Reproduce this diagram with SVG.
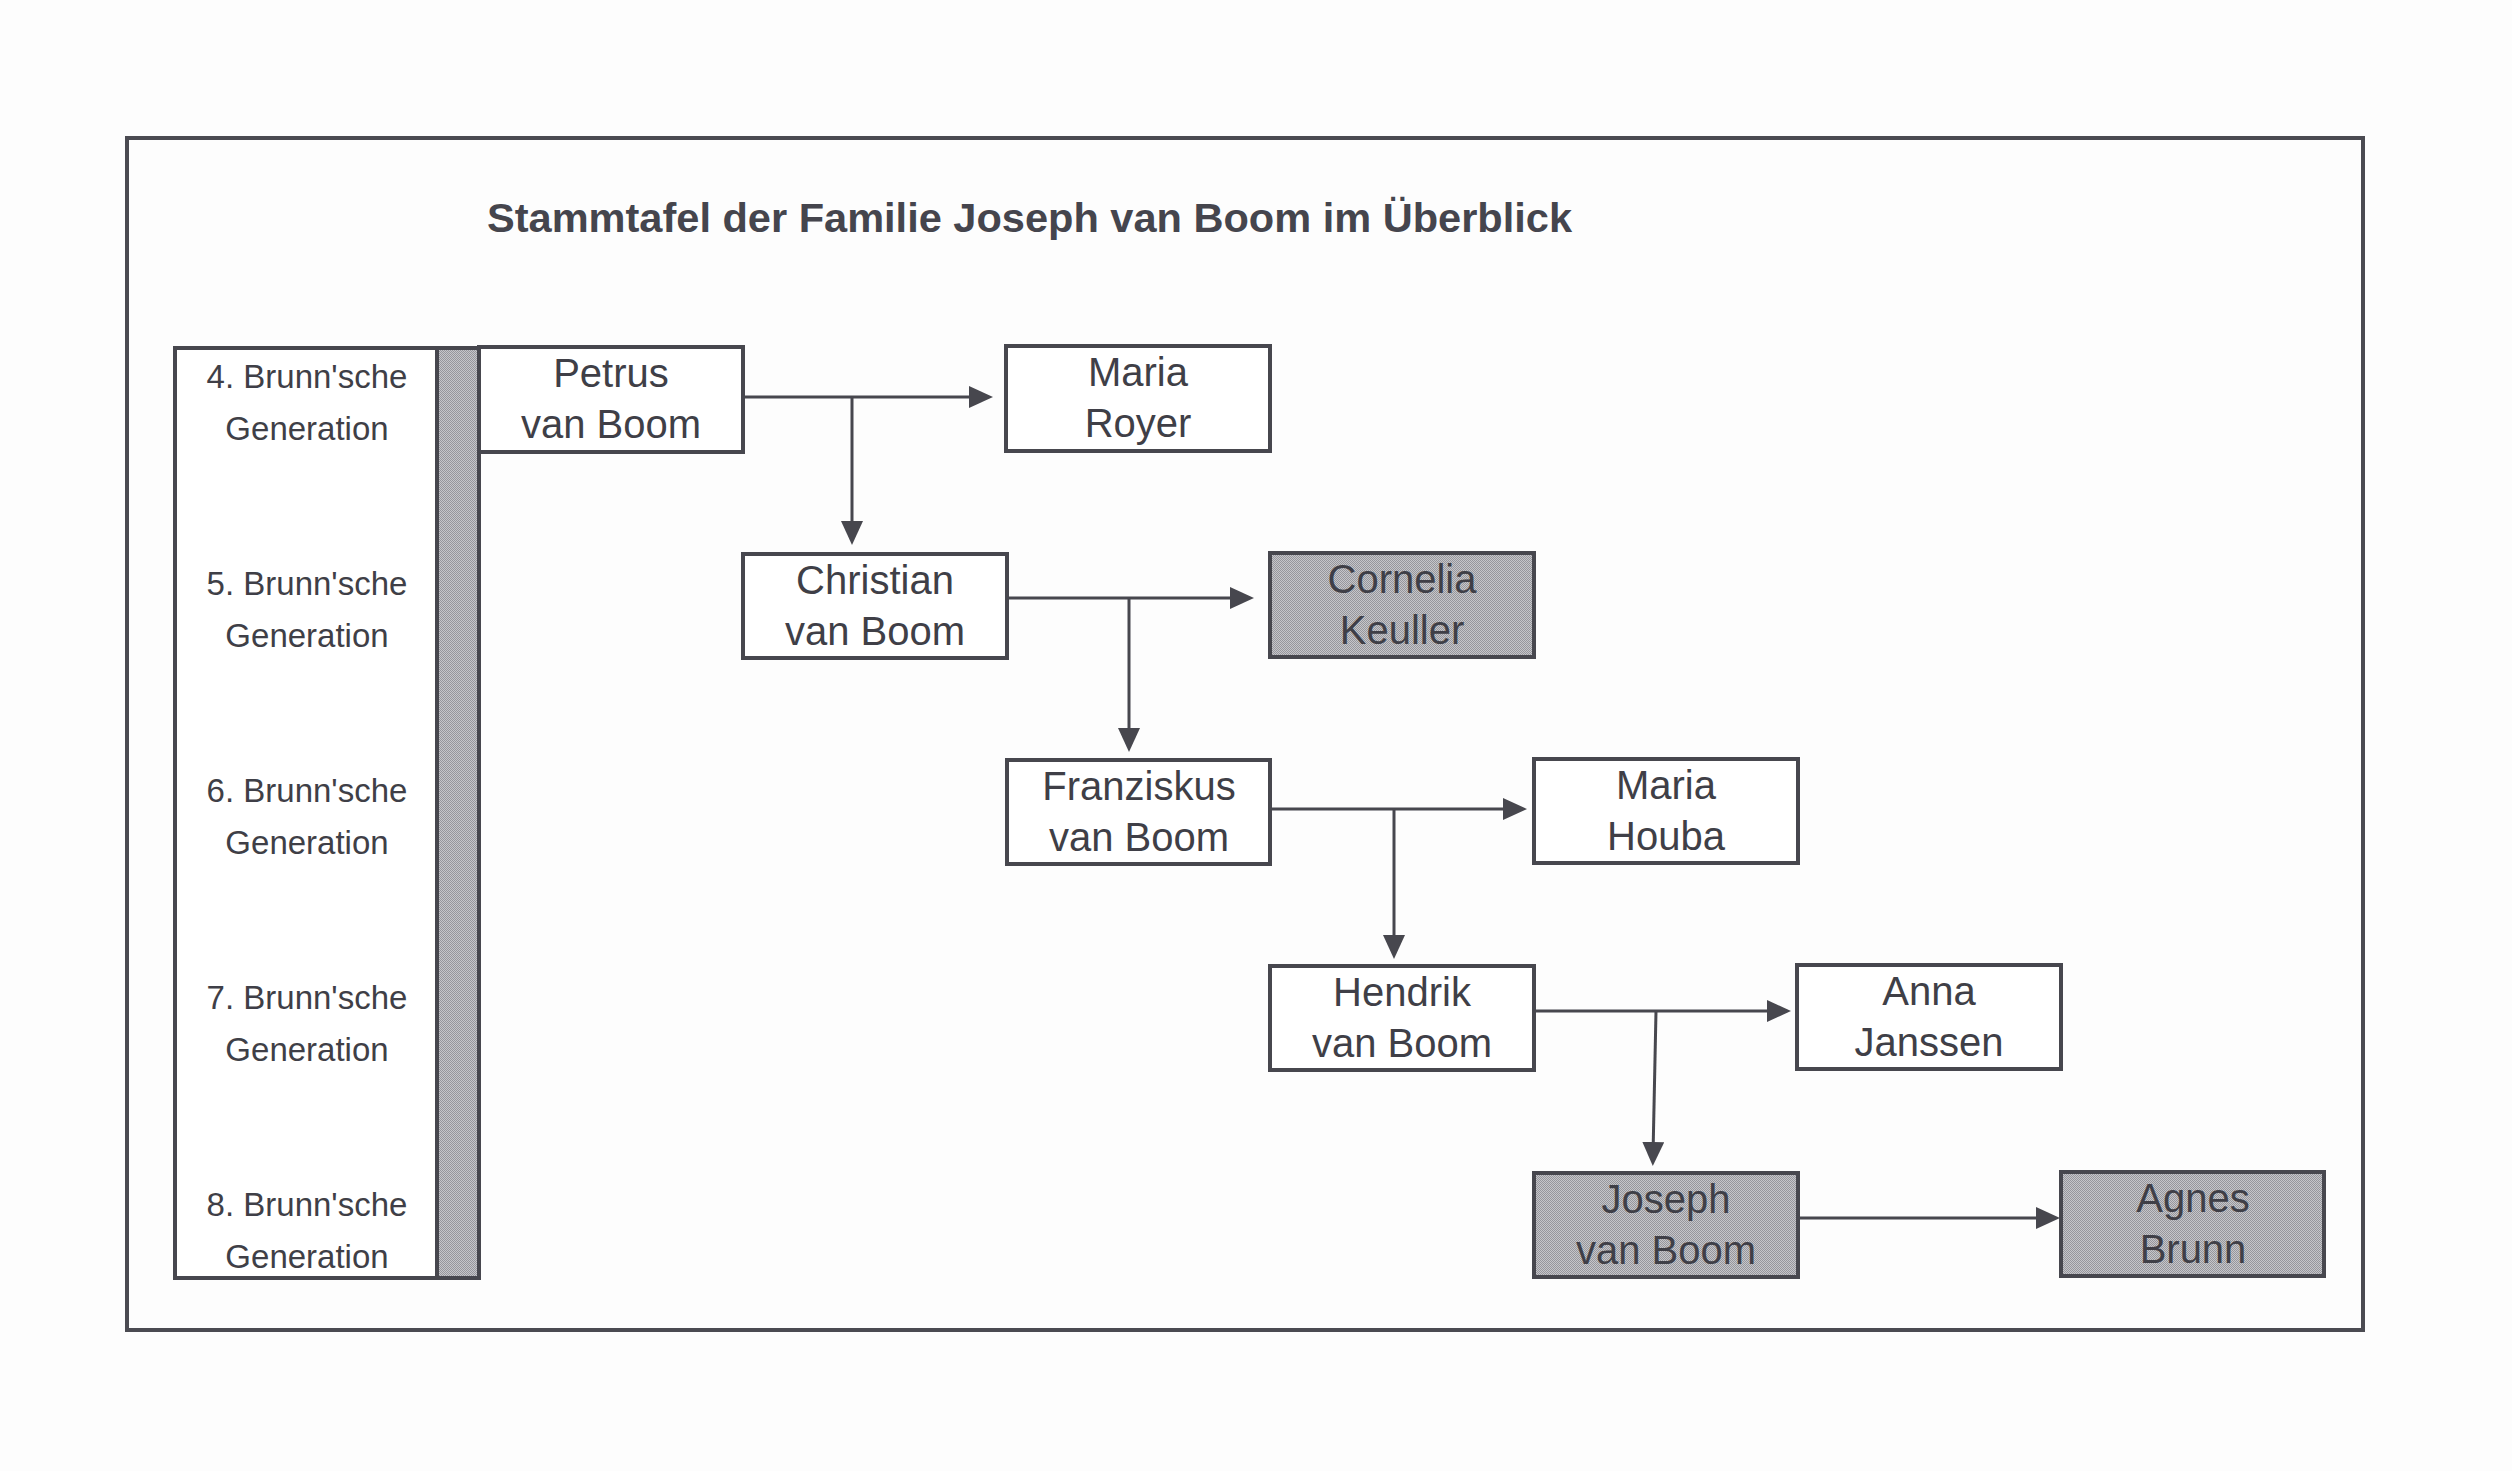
<svg xmlns="http://www.w3.org/2000/svg" width="2512" height="1471" viewBox="0 0 2512 1471">
<style>
.frame{fill:none;stroke:#4b4b52;stroke-width:4}
.box{fill:#ffffff;stroke:#47474e;stroke-width:4}
.grey{fill:url(#stip);stroke:#47474e;stroke-width:4}
.name{font-family:"Liberation Sans",Arial,sans-serif;font-size:40px;fill:#3f3f47;text-anchor:middle}
.gen{font-family:"Liberation Sans",Arial,sans-serif;font-size:33px;fill:#3f3f47;text-anchor:middle}
.title{font-family:"Liberation Sans",Arial,sans-serif;font-size:41px;font-weight:bold;fill:#45454d}
.conn{fill:none;stroke:#47474e;stroke-width:3}
</style>
<defs>
<pattern id="stip" width="2" height="2" patternUnits="userSpaceOnUse">
<rect width="2" height="2" fill="#c6c6ca"/>
<rect x="0" y="0" width="1" height="1" fill="#96969c"/>
<rect x="1" y="1" width="1" height="1" fill="#96969c"/>
</pattern>
<marker id="arr" viewBox="0 0 24 22" refX="14" refY="11" markerWidth="24" markerHeight="22" markerUnits="userSpaceOnUse" orient="auto">
<path d="M0,0 L24,11 L0,22 z" fill="#47474e"/>
</marker>
</defs>
<rect width="2512" height="1471" fill="#fdfdfd"/>
<rect class="frame" x="127" y="138" width="2236" height="1192"/>
<text class="title" x="487" y="232" textLength="1085" lengthAdjust="spacingAndGlyphs">Stammtafel der Familie Joseph van Boom im Überblick</text>

<g id="generations">
<rect class="box" x="175" y="348" width="262" height="930"/>
<rect class="grey" x="437" y="348" width="42" height="930"/>
<text class="gen" x="307" y="388">4. Brunn'sche</text>
<text class="gen" x="307" y="440">Generation</text>
<text class="gen" x="307" y="595">5. Brunn'sche</text>
<text class="gen" x="307" y="647">Generation</text>
<text class="gen" x="307" y="802">6. Brunn'sche</text>
<text class="gen" x="307" y="854">Generation</text>
<text class="gen" x="307" y="1009">7. Brunn'sche</text>
<text class="gen" x="307" y="1061">Generation</text>
<text class="gen" x="307" y="1216">8. Brunn'sche</text>
<text class="gen" x="307" y="1268">Generation</text>
</g>

<g id="connectors">
<path class="conn" d="M743,397 H983" marker-end="url(#arr)"/>
<path class="conn" d="M852,397 V535" marker-end="url(#arr)"/>
<path class="conn" d="M1007,598 H1244" marker-end="url(#arr)"/>
<path class="conn" d="M1129,598 V742" marker-end="url(#arr)"/>
<path class="conn" d="M1270,809 H1517" marker-end="url(#arr)"/>
<path class="conn" d="M1394,809 V949" marker-end="url(#arr)"/>
<path class="conn" d="M1534,1011 H1781" marker-end="url(#arr)"/>
<path class="conn" d="M1656,1011 L1653,1156" marker-end="url(#arr)"/>
<path class="conn" d="M1797,1218 H2050" marker-end="url(#arr)"/>
</g>

<g id="petrus">
<rect class="box" x="479" y="347" width="264" height="105"/>
<text class="name" x="611" y="387">Petrus</text>
<text class="name" x="611" y="438">van Boom</text>
</g>
<g id="maria-royer">
<rect class="box" x="1006" y="346" width="264" height="105"/>
<text class="name" x="1138" y="386">Maria</text>
<text class="name" x="1138" y="437">Royer</text>
</g>
<g id="christian">
<rect class="box" x="743" y="554" width="264" height="104"/>
<text class="name" x="875" y="594">Christian</text>
<text class="name" x="875" y="645">van Boom</text>
</g>
<g id="cornelia">
<rect class="grey" x="1270" y="553" width="264" height="104"/>
<text class="name" x="1402" y="593">Cornelia</text>
<text class="name" x="1402" y="644">Keuller</text>
</g>
<g id="franziskus">
<rect class="box" x="1007" y="760" width="263" height="104"/>
<text class="name" x="1139" y="800">Franziskus</text>
<text class="name" x="1139" y="851">van Boom</text>
</g>
<g id="maria-houba">
<rect class="box" x="1534" y="759" width="264" height="104"/>
<text class="name" x="1666" y="799">Maria</text>
<text class="name" x="1666" y="850">Houba</text>
</g>
<g id="hendrik">
<rect class="box" x="1270" y="966" width="264" height="104"/>
<text class="name" x="1402" y="1006">Hendrik</text>
<text class="name" x="1402" y="1057">van Boom</text>
</g>
<g id="anna">
<rect class="box" x="1797" y="965" width="264" height="104"/>
<text class="name" x="1929" y="1005">Anna</text>
<text class="name" x="1929" y="1056">Janssen</text>
</g>
<g id="joseph">
<rect class="grey" x="1534" y="1173" width="264" height="104"/>
<text class="name" x="1666" y="1213">Joseph</text>
<text class="name" x="1666" y="1264">van Boom</text>
</g>
<g id="agnes">
<rect class="grey" x="2061" y="1172" width="263" height="104"/>
<text class="name" x="2193" y="1212">Agnes</text>
<text class="name" x="2193" y="1263">Brunn</text>
</g>
</svg>
